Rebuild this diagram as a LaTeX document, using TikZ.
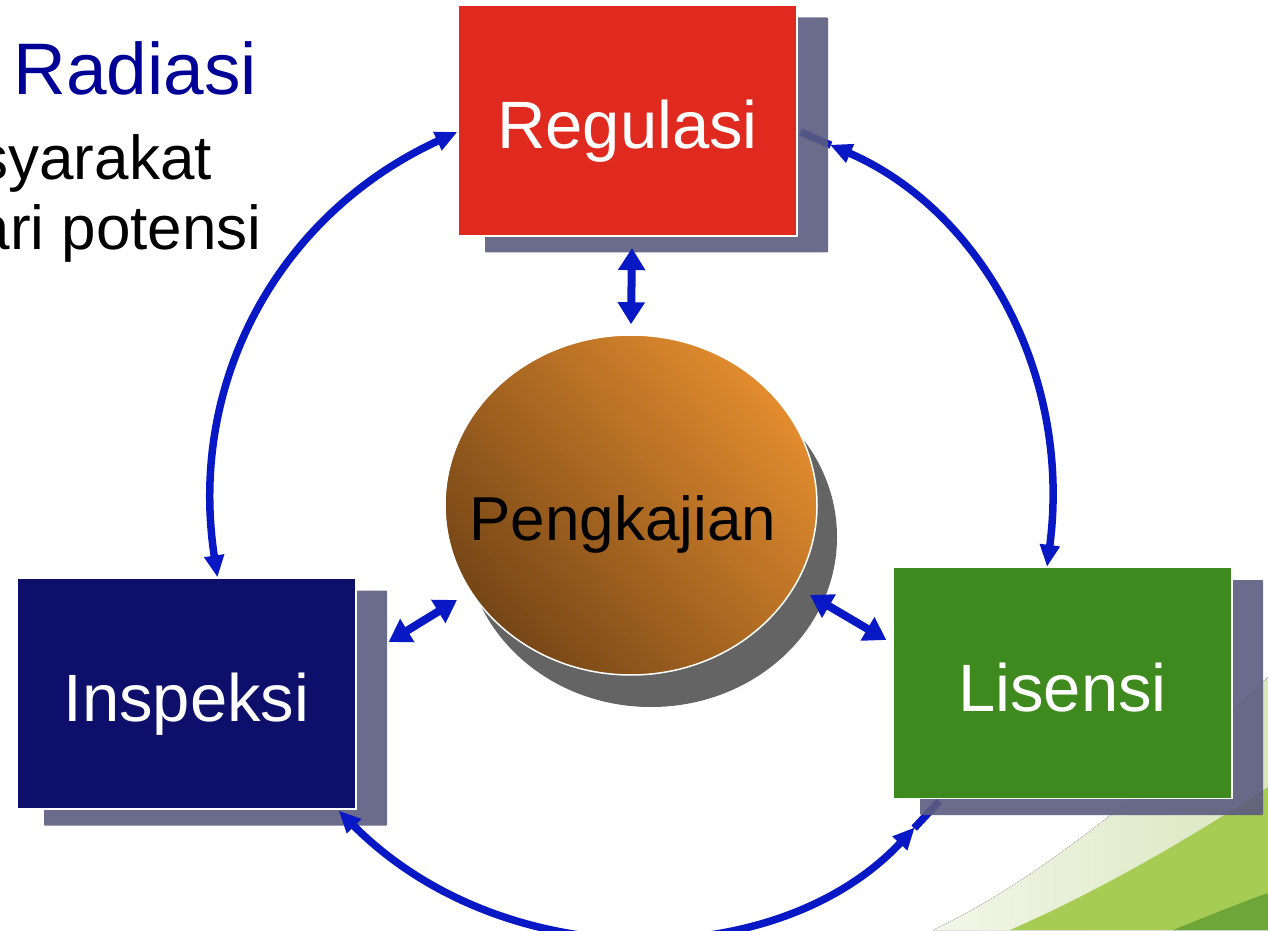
\documentclass[tikz,border=0pt]{standalone}
\usepackage{fontspec}
\setmainfont{Liberation Sans}
\usetikzlibrary{arrows.meta,shapes.geometric}
\pgfdeclarelayer{bg}\pgfdeclarelayer{low}\pgfdeclarelayer{shad}\pgfdeclarelayer{mid}
\pgfsetlayers{bg,low,shad,mid,main}
\definecolor{regred}{RGB}{224,42,32}
\definecolor{inspnavy}{RGB}{13,15,107}
\definecolor{lisgreen}{RGB}{63,138,30}
\definecolor{shadowcol}{RGB}{92,92,128}
\definecolor{arrowblue}{RGB}{8,24,196}
\definecolor{titleblue}{RGB}{0,0,150}
\definecolor{orangelight}{RGB}{226,140,46}
\definecolor{browndark}{RGB}{118,70,22}
\definecolor{palegreen}{RGB}{218,230,190}
\definecolor{brightgreen}{RGB}{166,204,84}
\definecolor{darkgreen}{RGB}{110,166,58}
\definecolor{circshadow}{RGB}{100,100,100}
\begin{document}
\begin{tikzpicture}[x=1pt,y=1pt,
  box/.style={rectangle, minimum width=339pt, minimum height=231pt, inner sep=0pt,
    draw=white, line width=1.2pt, text=white, font=\fontsize{67}{67}\selectfont,
    text height=56pt, text depth=0pt},
  shadowbox/.style={rectangle, minimum width=343pt, minimum height=235pt, inner sep=0pt,
    fill=shadowcol, fill opacity=0.9, rounded corners=1pt},
  disc/.style={ellipse, minimum width=372pt, minimum height=340pt, inner sep=0pt},
  arcline/.style={draw=arrowblue, line width=7.5pt},
  arctips/.style={arcline, {Triangle[width=19pt,length=22pt]}-{Triangle[width=19pt,length=22pt]}},
  dbl/.style={draw=arrowblue, line width=8pt, {Triangle[width=26pt,length=22pt]}-{Triangle[width=26pt,length=22pt]}},
  side/.style={inner sep=0pt, anchor=base east, font=\fontsize{62}{62}\selectfont}
]
\useasboundingbox (0,0) rectangle (1268,930);
\begin{pgfonlayer}{bg}
  \fill[white] (0,0) rectangle (1268,930);
  \fill[left color=palegreen!35, middle color=palegreen, right color=palegreen]
    (933,0) .. controls (1030,45) and (1150,140) .. (1268,253) -- (1268,0) -- cycle;
  \fill[brightgreen] (1010,0) .. controls (1090,35) and (1180,85) .. (1268,143) -- (1268,0) -- cycle;
  \fill[darkgreen] (1173,0) .. controls (1210,15) and (1240,27) .. (1268,37) -- (1268,0) -- cycle;
\end{pgfonlayer}

% side texts
\node[side, text=titleblue, font=\fontsize{73}{73}\selectfont] (t1) at (257,835) {Radiasi};
\node[side] (t2) at (212,750) {syarakat};
\node[side] (t3) at (262,680) {ari potensi};

% main nodes
\node[box, fill=regred] (reg) at (627.5,809.5) {Regulasi};
\node[box, fill=inspnavy] (insp) at (186.5,236.5) {Inspeksi};
\node[box, fill=lisgreen] (lis) at (1062.5,247) {Lisensi};
\node[disc, draw=white, line width=1.5pt, shading=axis, top color=orangelight,
  bottom color=browndark, shading angle=-50] (pen) at (631,425) {};
\node[font=\fontsize{62}{62}\selectfont, inner sep=0pt, anchor=base] (penlabel)
  at ([xshift=-8pt,yshift=-35pt]pen.center) {Pengkajian};

% shadows
\begin{pgfonlayer}{shad}
  \node[shadowbox] (regsh) at ([shift={(29,-14.5)}]reg.center) {};
  \node[shadowbox] (inspsh) at ([shift={(29,-14.5)}]insp.center) {};
  \node[shadowbox] (lissh) at ([shift={(29,-14.5)}]lis.center) {};
  \node[disc, fill=circshadow] (pensh) at ([shift={(20,-32)}]pen.center) {};
\end{pgfonlayer}

% short tails under shadows
\begin{pgfonlayer}{low}
  \draw[arcline] ([xshift=3pt,yshift=-11.5pt]reg.east) -- ++(-23.5:33);
  \draw[arcline] ([xshift=47pt,yshift=-2pt]lis.south west) -- ++(227:37);
\end{pgfonlayer}
% arcs with tips
\begin{pgfonlayer}{mid}
  \draw[arctips] ([yshift=-11.5pt]reg.west) to[bend right=37] ([xshift=31pt]insp.north);
  \draw[arctips, shorten <=32pt] ([xshift=3pt,yshift=-11.5pt]reg.east) to[bend left=37] ([xshift=-15.5pt]lis.north);
  \draw[arctips, shorten >=36pt] ([xshift=-18pt,yshift=-1pt]insp.south east) to[bend right=46] ([xshift=47pt,yshift=-2pt]lis.south west);
\end{pgfonlayer}

% double arrows
\draw[dbl] ([xshift=4.5pt,yshift=-11.5pt]reg.south) -- ([yshift=10pt]pen.north);
\draw[dbl] ([xshift=32pt,yshift=51.5pt]insp.east) -- ([xshift=-174pt,yshift=-95pt]pen.center);
\draw[dbl] ([xshift=179pt,yshift=-90pt]pen.center) -- ([xshift=-6pt,yshift=43pt]lis.west);
\end{tikzpicture}
\end{document}
